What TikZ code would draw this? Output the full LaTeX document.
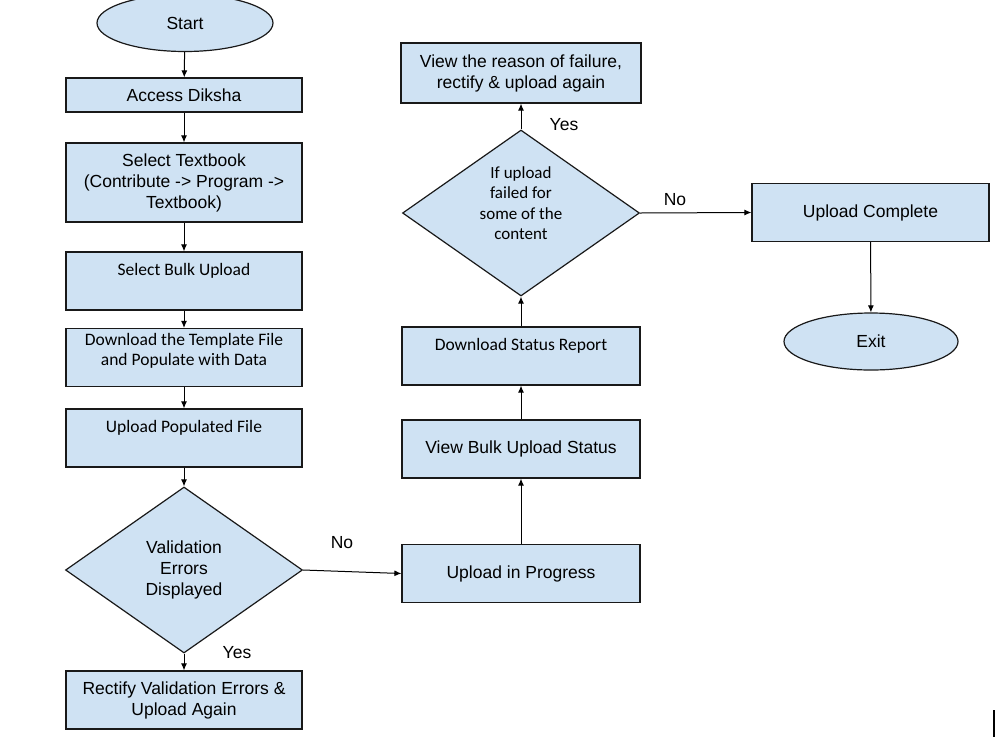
\documentclass[tikz,border=0pt]{standalone}
\usepackage{fontspec}
\setmainfont{Liberation Sans}
\newfontfamily\calibri{Carlito}
\usetikzlibrary{shapes.geometric,arrows.meta}
\definecolor{boxblue}{HTML}{CFE2F3}

\begin{document}
\begin{tikzpicture}[x=1pt,y=-1pt,
font=\fontsize{17.5}{21}\selectfont,
arr/.style={draw,line width=1pt,-{Latex[length=7pt,width=6pt]}},
box/.style={rectangle,minimum width=236pt,minimum height=58pt,align=center,inner sep=2pt},
cbox/.style={box,font=\calibri\fontsize{17.5}{20.5}\selectfont,text depth=23pt},
dia/.style={diamond,aspect=1.4,inner sep=0pt,minimum width=237pt,minimum height=166pt,align=center},
oval/.style={ellipse,minimum width=176pt,minimum height=57pt}]
\tikzstyle{every node}=[draw=black!90,line width=1.2pt,fill=boxblue]
\useasboundingbox (0,0) rectangle (995,737);
\node[oval] (start) at (185,23) {Start};
\node[box,minimum height=34pt] (access) at (184,95) {Access Diksha};
\node[box,minimum height=79pt] (textbook) at (184,182.5) {Select Textbook\\(Contribute -> Program ->\\Textbook)};
\node[cbox] (bulk) at (184,281) {Select Bulk Upload};
\node[cbox,text depth=16pt] (template) at (184,357.5) {Download the Template File\\and Populate with Data};
\node[cbox] (populate) at (184,438) {Upload Populated File};
\node[dia] (valid) at (184,570) {Validation\\Errors\\Displayed};
\node[box] (rectify) at (184,700) {Rectify Validation Errors \&\\Upload Again};
\node[box,minimum width=238pt] (progress) at (521,573.5) {Upload in Progress};
\node[box,minimum width=238pt] (status) at (521,449) {View Bulk Upload Status};
\node[cbox,minimum width=238pt] (report) at (521,356) {Download Status Report};
\node[dia,font=\calibri\fontsize{17}{20.5}\selectfont,text depth=20pt] (failed) at (521,213) {If upload\\failed for\\some of the\\content};
\node[box,minimum width=240pt,minimum height=60pt] (reason) at (521,73) {View the reason of failure,\\rectify \& upload again};
\node[box,minimum width=237pt] (complete) at (870.5,212.5) {Upload Complete};
\node[oval,minimum width=174pt] (exit) at (871,341.5) {Exit};
\node[draw=none,fill=none] (noA) at (342,543) {No};
\node[draw=none,fill=none] (yesA) at (237,653) {Yes};
\node[draw=none,fill=none] (yesB) at (564,125) {Yes};
\node[draw=none,fill=none] (noB) at (675,200) {No};
\draw[arr] (start) -- (access);
\draw[arr] (access) -- (textbook);
\draw[arr] (textbook) -- (bulk);
\draw[arr] (bulk) -- (template);
\draw[arr] (template) -- (populate);
\draw[arr] (populate) -- (valid);
\draw[arr] (valid) -- (rectify);
\draw[arr] (valid.east) -- (progress.west);
\draw[arr] (progress) -- (status);
\draw[arr] (status) -- (report);
\draw[arr] (report) -- (failed);
\draw[arr] (failed) -- (reason);
\draw[arr] (failed.east) -- (complete.west);
\draw[arr] (complete) -- (exit);
\draw[line width=2pt] (993.5,710) -- (993.5,737);
\end{tikzpicture}
\end{document}
